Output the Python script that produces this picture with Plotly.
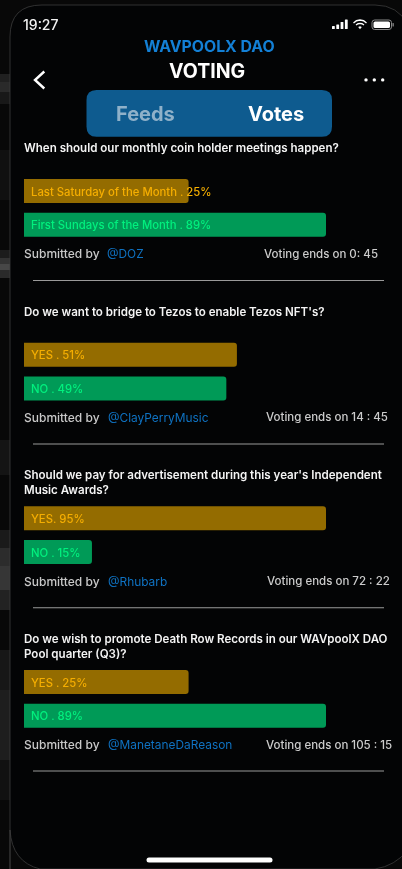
import plotly.graph_objects as go

W, H = 402, 869
FONT = "Inter"

# ---- data ----
questions = [
    ["When should our monthly coin holder meetings happen?"],
    ["Do we want to bridge to Tezos to enable Tezos NFT's?"],
    ["Should we pay for advertisement during this year's Independent", "Music Awards?"],
    ["Do we wish to promote Death Row Records in our WAVpoolX DAO", "Pool quarter (Q3)?"],
]
first_labels = ["Last Saturday of the Month . 25%", "YES . 51%", "YES. 95%", "YES . 25%"]
second_labels = ["First Sundays of the Month . 89%", "NO . 49%", "NO . 15%", "NO . 89%"]
# drawn bar lengths, as share of the longest bar (they differ from the printed percentages)
first_lengths = [54.5, 70.5, 100, 54.5]
second_lengths = [100, 67, 22.5, 100]
submitters = ["@DOZ", "@ClayPerryMusic", "@Rhubarb", "@ManetaneDaReason"]
voting_ends = ["Voting ends on 0: 45", "Voting ends on 14 : 45", "Voting ends on 72 : 22", "Voting ends on 105 : 15"]

# ---- layout positions (pixels) ----
question_rows = [[148], [311.5], [475, 490], [639, 654]]
group_tops = [174.2, 337.9, 501.5, 665.2]
BAND = 33.7
footer_rows = [254, 417.3, 581, 744.7]
voting_left = [264, 266, 267, 266]
divider_rows = [280.5, 444, 607.7, 771]
GOLD_BAR, GOLD_TXT = "#946c00", "#f5ae00"
GREEN_BAR, GREEN_TXT = "#009a57", "#00f07e"


def px(x):
    return x / W


def py(y):
    return 1 - y / H


def rrect(x0, y0, x1, y1, r):
    return (f"M{px(x0+r)},{py(y0)} L{px(x1-r)},{py(y0)} Q{px(x1)},{py(y0)} {px(x1)},{py(y0+r)} "
            f"L{px(x1)},{py(y1-r)} Q{px(x1)},{py(y1)} {px(x1-r)},{py(y1)} "
            f"L{px(x0+r)},{py(y1)} Q{px(x0)},{py(y1)} {px(x0)},{py(y1-r)} "
            f"L{px(x0)},{py(y0+r)} Q{px(x0)},{py(y0)} {px(x0+r)},{py(y0)} Z")


def path(points):
    return "M" + " L".join(f"{px(a)},{py(b)}" for a, b in points)


shapes = []


def add_shape(d, fill=None, line=None, width=0):
    shapes.append(dict(type="path", xref="paper", yref="paper", path=d, layer="below",
                       fillcolor=fill or "rgba(0,0,0,0)",
                       line=dict(color=line or "rgba(0,0,0,0)", width=width)))


def add_rect(x0, y0, x1, y1, fill):
    shapes.append(dict(type="rect", xref="paper", yref="paper", layer="below", x0=px(x0), x1=px(x1),
                       y0=py(y1), y1=py(y0), fillcolor=fill, line=dict(width=0)))


annotations = []


def text(x, y, s, size, color, weight=500, anchor="left"):
    annotations.append(dict(xref="paper", yref="paper", x=px(x), y=py(y), text=s, showarrow=False,
                            xanchor=anchor, yanchor="middle", borderpad=0, borderwidth=0,
                            font=dict(family=FONT, size=size, color=color, weight=weight)))


# backdrop streaks at the left of the device (soft, stepped)
for y0, y1, c in [(74, 82, "#202020"), (82, 92, "#2a2a2a"), (92, 104, "#181818"), (150, 200, "#101010"),
                  (250, 258, "#1c1c1c"), (258, 264, "#333333"), (264, 270, "#474747"), (270, 278, "#2a2a2a"),
                  (440, 475, "#141414"), (530, 548, "#1a1a1a"), (548, 566, "#2c2c2c"), (566, 590, "#363636"),
                  (590, 610, "#222222"), (650, 690, "#171717"), (690, 760, "#1e1e1e"), (760, 800, "#111111")]:
    add_rect(0, y0, 10, y1, c)

# device body with thin outline
add_shape(f"M{px(10)},{py(869+30)} L{px(10)},{py(37)} Q{px(10)},{py(5)} {px(42)},{py(5)} L{px(375)},{py(5)} "
          f"Q{px(398)},{py(5)} {px(408)},{py(25)} L{px(408)},{py(850)} Q{px(395)},{py(866)} {px(375)},{py(869)} "
          f"L{px(40)},{py(869)} Q{px(12)},{py(862)} {px(10)},{py(830)} Z",
          fill="#030405", line="#3c3c3c", width=0.8)

# nav pill
add_shape(rrect(86.5, 90, 332, 136.7, 10), fill="#0e5b8f")
# back chevron
add_shape(path([(44.3, 71.5), (35, 80), (44.3, 88.5)]), line="#ffffff", width=2.4)
# more dots
for cx in (366, 374.3, 382.7):
    add_shape(rrect(cx - 1.7, 78.2, cx + 1.7, 81.6, 1.7), fill="#ffffff")
# signal bars
for i, top in enumerate((26, 24.5, 22, 19.5)):
    add_shape(rrect(332 + i * 4.3, top, 334.8 + i * 4.3, 29, 0.6), fill="#ffffff")
# wifi
add_shape(path([(353.5, 23), (356.5, 20.7), (360, 20), (363.5, 20.7), (366.5, 23)]), line="#ffffff", width=1.5)
add_shape(path([(356, 25), (358, 23.7), (360, 23.4), (362, 23.7), (364, 25)]), line="#ffffff", width=1.4)
add_shape(path([(358.2, 27), (360, 29.2), (361.8, 27), (360, 26.2)]) + " Z", fill="#ffffff")
# battery
add_shape(rrect(372, 20, 391.5, 29.5, 2.6), line="#8a8a8a", width=1)
add_shape(rrect(373.5, 21.5, 390, 28, 1.6), fill="#ffffff")
add_shape(rrect(392.5, 23, 393.8, 26.5, 0.6), fill="#8a8a8a")
# home indicator
add_shape(rrect(146.5, 857.5, 272.5, 862.5, 2.5), fill="#ffffff")
# dividers
for y in divider_rows:
    add_rect(33, y - 0.5, 384, y + 0.5, "#9a9a9a")

# header text
text(23, 24.5, "19:27", 14, "#f2f2f2", 500)
text(209, 46, "WAVPOOLX DAO", 15.8, "#1380d6", 700, "center")
text(207, 71, "VOTING", 19.5, "#ffffff", 700, "center")
text(145, 114.5, "Feeds", 20, "#8fb1c9", 700, "center")
text(276, 114.5, "Votes", 20, "#ffffff", 700, "center")

fig = go.Figure()
layout_axes = {}
for i in range(4):
    suffix = "" if i == 0 else str(i + 1)
    yname = "y" + suffix
    cats = [first_labels[i], second_labels[i]]
    fig.add_trace(go.Bar(x=[first_lengths[i], second_lengths[i]], y=cats, orientation="h", xaxis="x", yaxis=yname,
                         marker=dict(color=[GOLD_BAR, GREEN_BAR], line=dict(width=0)), width=24 / BAND,
                         hoverinfo="skip", showlegend=False))
    top = group_tops[i]
    layout_axes["yaxis" + suffix] = dict(type="category", categoryorder="array", categoryarray=cats,
                                         range=[1.5, -0.5], visible=False, anchor="x",
                                         domain=[py(top + 2 * BAND), py(top)], fixedrange=True)
    for cat, col in ((cats[0], GOLD_TXT), (cats[1], GREEN_TXT)):
        annotations.append(dict(xref="x", yref=yname, x=0, y=cat, text=cat, showarrow=False, xanchor="left",
                                yanchor="middle", xshift=5, yshift=-0.7,
                                font=dict(family=FONT, size=11.3, color=col, weight=500)))
    for line, y in zip(questions[i], question_rows[i]):
        text(24, y, line, 11.55, "#f4f4f4", 600)
    text(24, footer_rows[i], "Submitted by", 12, "#c8c8c8", 500)
    text(107.5, footer_rows[i], submitters[i], 11.9, "#0f72c2", 400)
    text(voting_left[i], footer_rows[i], voting_ends[i], 11.5, "#cccccc", 500)

fig.update_layout(
    width=W, height=H, margin=dict(l=0, r=0, t=0, b=0), autosize=False,
    paper_bgcolor="#080808", plot_bgcolor="rgba(0,0,0,0)",
    barmode="overlay", barcornerradius=3, showlegend=False,
    xaxis=dict(range=[0, 100], domain=[px(24), px(326)], visible=False, fixedrange=True),
    shapes=shapes, annotations=annotations,
    **layout_axes,
)
fig.write_html("out.html", config=dict(displayModeBar=False),
               post_script="document.body.style.margin='0';document.body.style.background='#000';"
                           "document.body.style.overflow='hidden';"
                           "document.querySelector('.plotly-graph-div').style.filter='blur(0.35px)';")
